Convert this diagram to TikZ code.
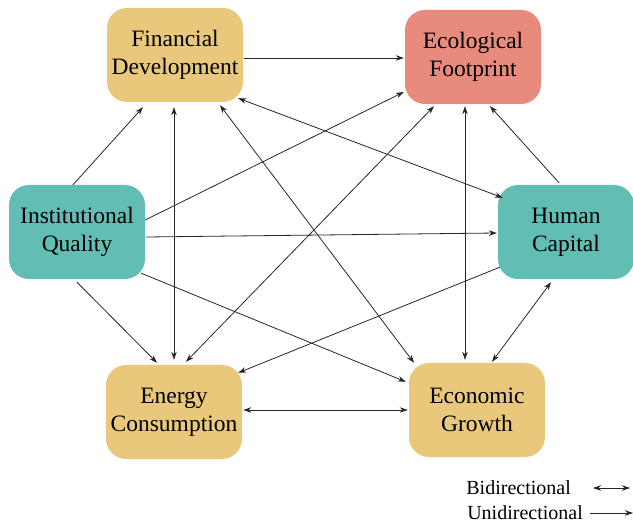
\documentclass[tikz,border=0pt]{standalone}
\usepackage{fontspec}
\setmainfont{Liberation Serif}
\usepackage{tikz}
\usetikzlibrary{arrows.meta}
\definecolor{boxtan}{HTML}{E9C87C}
\definecolor{boxred}{HTML}{E88A7C}
\definecolor{boxteal}{HTML}{62BEB5}

\begin{document}
\begin{tikzpicture}[x=1pt,y=-1pt,
	uni/.style={-{Stealth[length=8pt,width=5.5pt]},line width=0.8pt,black!85},
	bi/.style={{Stealth[length=8pt,width=5.5pt]}-{Stealth[length=8pt,width=5.5pt]},line width=0.8pt,black!85}]
		\useasboundingbox (0,0) rectangle (633,524);
		\begin{scope}[every node/.style={rounded corners=20pt,minimum width=136pt,minimum height=94pt,inner sep=0pt,align=center,font=\fontsize{23.5}{28}\selectfont}]
		\node[fill=boxtan] (fd) at (175,55) {Financial\\Development};
		\node[fill=boxred] (ef) at (473,57) {Ecological\\Footprint};
		\node[fill=boxteal] (iq) at (77,232) {Institutional\\Quality};
		\node[fill=boxteal] (hc) at (566,232) {Human\\Capital};
		\node[fill=boxtan] (ec) at (174,412) {Energy\\Consumption};
		\node[fill=boxtan] (eg) at (477,410) {Economic\\Growth};
		\end{scope}
		
		\draw[uni] ([xshift=1pt,yshift=-3pt]fd.east) -- ([xshift=-1pt,yshift=-1pt]ef.west);
		\draw[uni] ([xshift=-4pt]iq.north) -- ([xshift=-32pt,yshift=-5pt]fd.south);
		\draw[bi] ([xshift=-1pt,yshift=-5pt]fd.south) -- ([yshift=5pt]ec.north);
		\draw[bi] ([xshift=45pt,yshift=-3pt]fd.south) -- ([xshift=-63pt]eg.north);
		\draw[bi] ([xshift=5pt,yshift=-13pt]hc.north west) -- ([xshift=-5pt,yshift=4pt]fd.south east);
		\draw[uni] ([yshift=12pt]iq.east) -- ([xshift=-1pt,yshift=-35pt]ef.west);
		\draw[bi] ([xshift=-39pt,yshift=-2pt]ef.south) -- ([xshift=12pt,yshift=3pt]ec.north);
		\draw[bi] ([xshift=-8pt,yshift=-2pt]ef.south) -- ([xshift=-12pt,yshift=3pt]eg.north);
		\draw[uni] ([xshift=-7pt,yshift=2pt]hc.north) -- ([xshift=17pt,yshift=-2pt]ef.south);
		\draw[uni] ([xshift=1pt,yshift=-5pt]iq.east) -- ([xshift=-1pt,yshift=-1pt]hc.west);
		\draw[uni] ([xshift=-4pt,yshift=6pt]iq.south east) -- ([xshift=-3pt,yshift=-19pt]eg.north west);
		\draw[uni] ([yshift=-3pt]iq.south) -- ([xshift=-17pt,yshift=2pt]ec.north);
		\draw[uni] ([xshift=2pt,yshift=12pt]hc.south west) -- ([xshift=-4pt,yshift=-8pt]ec.north east);
		\draw[bi] ([xshift=15pt,yshift=1pt]eg.north) -- ([xshift=-15pt,yshift=-3pt]hc.south);
		\draw[bi] ([xshift=1pt,yshift=2pt]ec.east) -- ([xshift=-1pt]eg.west);
		
		\node[anchor=base east,inner sep=0pt,font=\fontsize{20}{24}\selectfont] (bi) at (571,494) {Bidirectional};
		\node[anchor=base east,inner sep=0pt,font=\fontsize{20}{24}\selectfont] (un) at (583,519) {Unidirectional};
		\coordinate (biend) at (630,488);
		\coordinate (unend) at (633,513);
		\draw[bi] (biend -| bi.east) ++(22,0) -- (biend);
		\draw[uni] (unend -| un.east) ++(7,0) -- (unend);
		
		\end{tikzpicture}
\end{document}
